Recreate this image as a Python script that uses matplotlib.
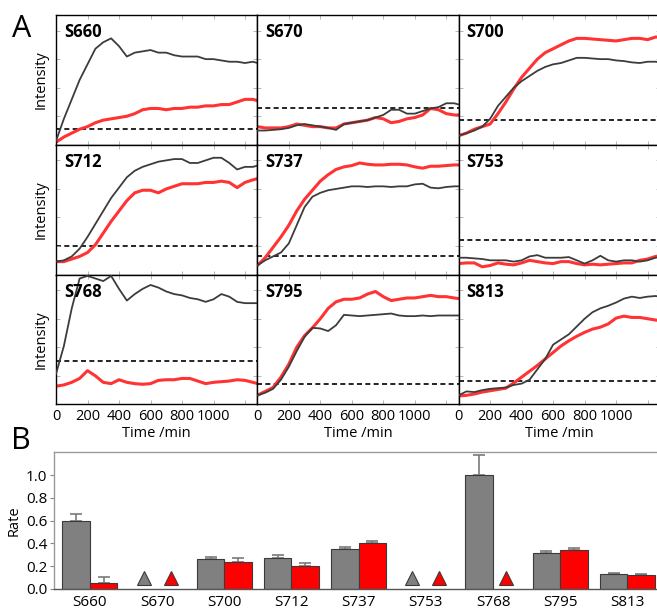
import numpy as np
import matplotlib
matplotlib.use("Agg")
import matplotlib.pyplot as plt

plt.rcParams['font.family'] = ['Open Sans', 'DejaVu Sans']

# time grid (min) used for every trace
t = [0, 50, 100, 150, 200, 250, 300, 350, 400, 450, 500, 550, 600, 650,
     700, 750, 800, 850, 900, 950, 1000, 1050, 1100, 1150, 1200, 1250, 1280]

# normalised intensity traces (gray = first series, red = second series)
s660_gray = [0.03, 0.20, 0.35, 0.50, 0.62, 0.74, 0.79, 0.82, 0.76, 0.68, 0.71, 0.72, 0.73, 0.71,
             0.71, 0.69, 0.68, 0.68, 0.68, 0.66, 0.66, 0.65, 0.64, 0.64, 0.63, 0.64, 0.63]
s660_red = [0.02, 0.06, 0.09, 0.12, 0.14, 0.17, 0.19, 0.20, 0.21, 0.22, 0.24, 0.27, 0.28, 0.28,
            0.27, 0.28, 0.28, 0.29, 0.29, 0.30, 0.30, 0.31, 0.31, 0.33, 0.35, 0.35, 0.34]
s670_gray = [0.11, 0.11, 0.115, 0.12, 0.13, 0.15, 0.16, 0.15, 0.14, 0.13, 0.115, 0.16, 0.17, 0.18,
             0.19, 0.21, 0.23, 0.27, 0.27, 0.24, 0.24, 0.26, 0.28, 0.29, 0.32, 0.32, 0.31]
s670_red = [0.14, 0.13, 0.13, 0.13, 0.14, 0.16, 0.15, 0.14, 0.14, 0.13, 0.13, 0.16, 0.17, 0.18,
            0.19, 0.21, 0.20, 0.17, 0.18, 0.20, 0.21, 0.23, 0.28, 0.27, 0.24, 0.23, 0.23]
s700_gray = [0.07, 0.09, 0.11, 0.14, 0.20, 0.30, 0.37, 0.44, 0.49, 0.53, 0.57, 0.60, 0.62, 0.63,
             0.65, 0.67, 0.67, 0.665, 0.66, 0.66, 0.65, 0.645, 0.635, 0.63, 0.64, 0.64, 0.635]
s700_red = [0.07, 0.09, 0.12, 0.14, 0.16, 0.24, 0.33, 0.43, 0.52, 0.59, 0.66, 0.71, 0.74, 0.77,
            0.80, 0.82, 0.82, 0.815, 0.81, 0.805, 0.80, 0.81, 0.82, 0.82, 0.81, 0.83, 0.83]
s712_gray = [0.10, 0.11, 0.14, 0.20, 0.29, 0.39, 0.49, 0.59, 0.67, 0.75, 0.80, 0.83, 0.85, 0.87,
             0.88, 0.89, 0.89, 0.86, 0.86, 0.88, 0.90, 0.90, 0.86, 0.81, 0.83, 0.83, 0.84]
s712_red = [0.10, 0.10, 0.12, 0.14, 0.17, 0.23, 0.32, 0.41, 0.49, 0.57, 0.63, 0.65, 0.65, 0.63,
            0.66, 0.68, 0.70, 0.70, 0.70, 0.71, 0.71, 0.72, 0.71, 0.67, 0.71, 0.73, 0.74]
s737_gray = [0.07, 0.11, 0.14, 0.17, 0.24, 0.38, 0.52, 0.60, 0.63, 0.65, 0.66, 0.67, 0.68, 0.68,
             0.675, 0.68, 0.68, 0.675, 0.68, 0.68, 0.695, 0.70, 0.67, 0.665, 0.675, 0.68, 0.68]
s737_red = [0.07, 0.13, 0.21, 0.29, 0.38, 0.49, 0.58, 0.65, 0.72, 0.77, 0.81, 0.83, 0.84, 0.86,
            0.85, 0.845, 0.845, 0.85, 0.85, 0.845, 0.83, 0.82, 0.835, 0.835, 0.84, 0.845, 0.845]
s753_gray = [0.13, 0.13, 0.125, 0.12, 0.11, 0.11, 0.11, 0.10, 0.11, 0.14, 0.15, 0.13, 0.13, 0.13,
             0.135, 0.11, 0.085, 0.11, 0.145, 0.11, 0.10, 0.11, 0.11, 0.10, 0.11, 0.13, 0.135]
s753_red = [0.085, 0.09, 0.09, 0.06, 0.07, 0.09, 0.08, 0.075, 0.09, 0.11, 0.10, 0.09, 0.085, 0.10,
            0.10, 0.085, 0.075, 0.08, 0.075, 0.08, 0.085, 0.09, 0.09, 0.11, 0.12, 0.14, 0.145]
s768_gray = [0.235, 0.45, 0.74, 0.97, 0.99, 0.97, 0.95, 0.99, 0.89, 0.80, 0.85, 0.89, 0.92, 0.90,
             0.87, 0.85, 0.84, 0.82, 0.81, 0.79, 0.81, 0.85, 0.83, 0.79, 0.78, 0.78, 0.78]
s768_red = [0.14, 0.15, 0.17, 0.20, 0.26, 0.22, 0.17, 0.16, 0.19, 0.17, 0.16, 0.155, 0.16, 0.185,
            0.19, 0.19, 0.20, 0.20, 0.18, 0.16, 0.17, 0.175, 0.18, 0.19, 0.185, 0.17, 0.16]
s795_gray = [0.07, 0.09, 0.12, 0.19, 0.29, 0.41, 0.52, 0.59, 0.585, 0.565, 0.61, 0.69, 0.685, 0.68,
             0.685, 0.69, 0.695, 0.70, 0.685, 0.68, 0.68, 0.685, 0.68, 0.685, 0.685, 0.685, 0.685]
s795_red = [0.07, 0.10, 0.13, 0.21, 0.31, 0.44, 0.53, 0.59, 0.66, 0.74, 0.79, 0.81, 0.81, 0.82,
            0.85, 0.87, 0.83, 0.80, 0.81, 0.82, 0.82, 0.83, 0.84, 0.83, 0.83, 0.82, 0.815]
s813_gray = [0.07, 0.10, 0.095, 0.11, 0.12, 0.125, 0.13, 0.15, 0.16, 0.19, 0.27, 0.35, 0.46, 0.50,
             0.54, 0.60, 0.66, 0.71, 0.74, 0.76, 0.785, 0.815, 0.83, 0.82, 0.83, 0.835, 0.83]
s813_red = [0.065, 0.07, 0.08, 0.095, 0.105, 0.115, 0.125, 0.165, 0.21, 0.255, 0.30, 0.35, 0.40, 0.45,
            0.49, 0.525, 0.555, 0.58, 0.595, 0.62, 0.665, 0.68, 0.67, 0.67, 0.66, 0.65, 0.645]

sites = ['S660', 'S670', 'S700', 'S712', 'S737', 'S753', 'S768', 'S795', 'S813']
thresholds = [0.12, 0.28, 0.19, 0.22, 0.14, 0.27, 0.335, 0.16, 0.18]
gray_traces = [s660_gray, s670_gray, s700_gray, s712_gray, s737_gray,
               s753_gray, s768_gray, s795_gray, s813_gray]
red_traces = [s660_red, s670_red, s700_red, s712_red, s737_red,
              s753_red, s768_red, s795_red, s813_red]

# panel B rates (None = no rate, shown as triangle)
gray_rate = [0.60, None, 0.26, 0.27, 0.35, None, 1.00, 0.32, 0.13]
gray_err = [0.06, 0, 0.025, 0.025, 0.02, 0, 0.18, 0.01, 0.012]
red_rate = [0.05, None, 0.24, 0.20, 0.40, None, None, 0.345, 0.12]
red_err = [0.055, 0, 0.03, 0.025, 0.02, 0, 0, 0.015, 0.01]
marker_level = 0.1

GRAY_LINE = '#3c3c3c'
RED_LINE = '#ff3333'

fig = plt.figure(figsize=(6.57, 6.10), dpi=100)

left0 = 56 / 657
pw = 201.3 / 657
ph = 129.8 / 610
top0 = 1 - 15 / 610

for i, name in enumerate(sites):
    r, c = divmod(i, 3)
    ax = fig.add_axes([left0 + c * pw, top0 - (r + 1) * ph, pw, ph])
    ax.plot(t, gray_traces[i], color=GRAY_LINE, lw=1.3, zorder=3)
    ax.plot(t, red_traces[i], color=RED_LINE, lw=2.2, zorder=2)
    ax.axhline(thresholds[i], color='black', lw=1.2, ls=(0, (3, 2)), zorder=1)
    ax.set_xlim(0, 1278)
    ax.set_ylim(0, 1)
    ax.text(0.04, 0.935, name, transform=ax.transAxes, ha='left', va='top',
            fontsize=12, fontweight='bold')
    ax.set_xticks([0, 200, 400, 600, 800, 1000, 1200])
    ax.set_yticks([0.22, 0.44, 0.66, 0.88])
    ax.set_yticklabels([])
    ax.tick_params(direction='in', length=3, width=0.6, color='#aaaaaa',
                   top=True, right=True, labelsize=10.5, pad=3)
    if r == 2:
        ax.set_xticklabels(['0', '200', '400', '600', '800', '1000', ''])
        ax.set_xlabel('Time /min', fontsize=10.5, labelpad=2)
    else:
        ax.set_xticklabels([])
    if c == 0:
        ax.set_ylabel('Intensity', fontsize=10.5, labelpad=2)
    for sp in ax.spines.values():
        sp.set_color('black')
        sp.set_linewidth(1.0)

fig.text(12 / 657, 1 - 14 / 610, 'A', fontsize=22, ha='left', va='top')
fig.text(11 / 657, 1 - 426 / 610, 'B', fontsize=22, ha='left', va='top')

# panel B
axb = fig.add_axes([54.3 / 657, 1 - 589 / 610, 1 - 54.3 / 657 + 0.002, (589 - 452.3) / 610])
x = np.arange(len(sites))
w = 0.41
for i in range(len(sites)):
    if gray_rate[i] is not None:
        axb.bar(x[i] - w / 2, gray_rate[i], w, color='#808080', edgecolor='#3a3a3a',
                linewidth=0.8, zorder=2)
        axb.errorbar(x[i] - w / 2, gray_rate[i], yerr=[[0], [gray_err[i]]], color='#7a7a7a',
                     capsize=4, elinewidth=1.2, capthick=1.2, zorder=1)
    else:
        axb.plot(x[i] - 0.2, marker_level, marker='^', ms=10, color='#808080',
                 markeredgecolor='#3a3a3a', mew=0.8, zorder=3)
    if red_rate[i] is not None:
        axb.bar(x[i] + w / 2, red_rate[i], w, color='#ff0000', edgecolor='#3a3a3a',
                linewidth=0.8, zorder=2)
        axb.errorbar(x[i] + w / 2, red_rate[i], yerr=[[0], [red_err[i]]], color='#7a7a7a',
                     capsize=4, elinewidth=1.2, capthick=1.2, zorder=1)
    else:
        axb.plot(x[i] + 0.2, marker_level, marker='^', ms=10, color='#ff0000',
                 markeredgecolor='#3a3a3a', mew=0.8, zorder=3)

axb.set_xlim(-0.53, 8.46)
axb.set_ylim(0, 1.2)
axb.set_xticks(x)
axb.set_xticklabels(sites, fontsize=11)
axb.set_yticks([0.0, 0.2, 0.4, 0.6, 0.8, 1.0])
axb.set_yticklabels(['0.0', '0.2', '0.4', '0.6', '0.8', '1.0'], fontsize=11)
axb.tick_params(axis='x', length=0, pad=4)
axb.tick_params(axis='y', length=3, width=0.8, color='#888888', pad=2)
axb.set_ylabel('Rate', fontsize=10.5, labelpad=3)
for sp in axb.spines.values():
    sp.set_color('#999999')
    sp.set_linewidth(1.0)
axb.spines['bottom'].set_color('#555555')

fig.savefig('out.png', dpi=100)
